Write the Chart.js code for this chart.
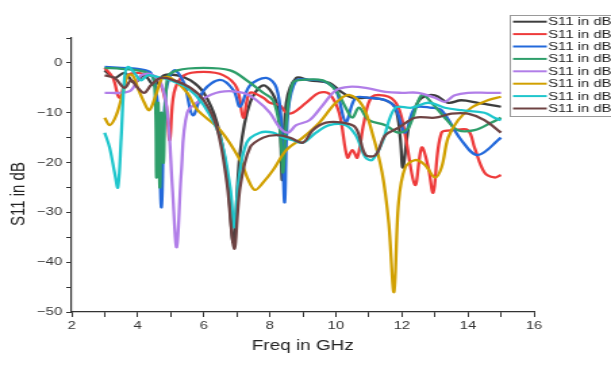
<!DOCTYPE html>
<html>
<head>
<meta charset="utf-8">
<script src="https://cdn.jsdelivr.net/npm/chart.js@4.4.1/dist/chart.umd.min.js"></script>
<style>
  html, body { margin: 0; padding: 0; background: #fff; overflow: hidden; }
  /* the source figure is stretched sideways, so the chart is drawn narrow and widened */
  #wrap { width: 452px; height: 370px; transform: scaleX(1.3518); transform-origin: 0 0; }
</style>
</head>
<body>
<div id="wrap"><canvas id="s11Chart" width="452" height="370"></canvas></div>
<script>
const xTickLabels = [2, 4, 6, 8, 10, 12, 14, 16];
const yTickLabels = [0, -10, -20, -30, -40, -50];

const freqBlack = [3, 3.3, 3.6, 3.9, 4.2, 4.5, 4.8, 5.2, 5.6, 6.0, 6.4, 6.7, 6.9, 7.1, 7.4, 7.8, 8.15, 8.3, 8.38, 8.5, 8.8, 9.2, 9.8, 10.1, 10.5, 11.0, 11.5, 11.8, 11.95, 12.03, 12.2, 12.4, 12.6, 13.0, 13.4, 13.8, 14.3, 15];
const s11Black  = [-1.5, -3, -2, -4, -2.5, -4.5, -2.5, -2.5, -3.5, -6, -12, -22, -36, -18, -8, -4.5, -7, -12, -23.5, -8, -3, -3.5, -4, -5.5, -7, -7, -7.5, -9, -15, -21, -13, -9, -7, -6.5, -8, -7.5, -8, -8.8];

const freqRed = [3, 3.25, 3.45, 3.7, 4.0, 4.3, 4.6, 4.85, 4.97, 5.1, 5.4, 6.0, 6.6, 7.0, 7.2, 7.4, 7.8, 8.0, 8.3, 8.5, 8.7, 9.1, 9.5, 9.8, 10.1, 10.35, 10.5, 10.65, 10.85, 11.1, 11.6, 11.9, 12.1, 12.4, 12.6, 12.8, 12.95, 13.2, 13.6, 14.0, 14.2, 14.5, 14.8, 15];
const s11Red  = [-1, -3, -7, -2.5, -2, -2.5, -3, -8, -15.5, -6, -2.5, -1.8, -2.5, -5, -11, -6, -7, -8, -8.5, -10, -10, -8, -6, -6.2, -10, -19, -17.5, -19, -12, -6.8, -6.8, -9, -14.5, -24.5, -17, -21, -26, -14, -13.5, -13.5, -17, -22, -23, -22.5];

const freqBlue = [3, 3.5, 4.0, 4.4, 4.6, 4.72, 4.85, 5.1, 5.4, 5.67, 6.0, 6.5, 6.9, 7.1, 7.4, 7.9, 8.2, 8.35, 8.45, 8.55, 8.8, 9.2, 9.6, 10.0, 10.3, 10.6, 11.0, 11.5, 11.8, 12.1, 12.4, 12.9, 13.2, 13.8, 14.3, 15];
const s11Blue  = [-0.8, -1, -1.2, -2, -8, -29, -6, -1.5, -4, -10.5, -5.5, -3.4, -5.5, -8.8, -4.5, -3, -5, -12, -28, -10, -3.5, -3.4, -3.6, -5.5, -11.8, -7, -7, -7.5, -9, -14, -9, -9, -9.5, -15.5, -18.5, -15];

const freqGreen = [3, 3.5, 4.0, 4.3, 4.5, 4.57, 4.62, 4.67, 4.72, 4.78, 4.9, 5.2, 6.0, 6.8, 7.3, 7.8, 8.1, 8.3, 8.4, 8.5, 8.7, 9.0, 9.6, 10.0, 10.3, 10.5, 10.7, 11.0, 11.5, 11.9, 12.2, 12.6, 12.9, 13.3, 13.7, 14.2, 14.7, 15];
const s11Green  = [-1, -1.2, -1.5, -2, -3.5, -23, -8, -25, -10, -20, -3, -1.5, -1, -1.5, -3.5, -6, -7.5, -13, -22, -12, -4, -3.4, -3.5, -5.5, -9, -11, -9, -11.5, -12.5, -14, -13, -6.4, -8, -11, -13.5, -13.5, -12, -11];

const freqPurple = [3, 3.5, 3.8, 4.1, 4.4, 4.7, 4.9, 5.05, 5.18, 5.32, 5.5, 5.9, 6.5, 7.2, 7.6, 8.0, 8.3, 8.55, 8.8, 9.2, 9.6, 10.0, 10.4, 10.9, 11.5, 12.0, 12.5, 13.0, 13.3, 13.6, 14.0, 14.6, 15];
const s11Purple  = [-6, -6, -5.5, -2.5, -2.3, -4, -10, -25, -37, -22, -10, -7.5, -5.8, -6, -7.5, -10, -13, -14, -12.5, -11.5, -8.5, -5.5, -4.8, -5, -5.8, -6, -6, -7, -7.8, -6.5, -6, -6, -6];

const freqGold = [3, 3.15, 3.35, 3.55, 3.7, 3.85, 4.0, 4.2, 4.35, 4.55, 4.75, 5.0, 5.5, 5.8, 6.5, 7.1, 7.35, 7.55, 7.8, 8.1, 8.5, 9.0, 9.5, 10.0, 10.4, 10.8, 11.1, 11.4, 11.6, 11.76, 11.9, 12.1, 12.4, 12.7, 13.0, 13.2, 13.4, 13.7, 14.1, 14.6, 15];
const s11Gold  = [-11, -12.5, -10.5, -6, -2.5, -2.5, -5, -8, -9.5, -6.5, -3, -3, -6, -9.4, -13.5, -19.5, -23.5, -25.5, -24, -21.5, -17.5, -15, -12, -8, -6.4, -8.5, -14, -22, -32, -46, -28, -21, -19.5, -20.5, -23, -21, -15, -11.5, -9, -7.5, -6.8];

const freqCyan = [3, 3.15, 3.3, 3.4, 3.5, 3.6, 3.7, 3.9, 4.1, 4.3, 4.6, 5.0, 5.5, 6.0, 6.5, 6.8, 6.92, 7.05, 7.3, 7.7, 8.1, 8.4, 8.7, 9.0, 9.4, 9.8, 10.3, 10.6, 10.9, 11.1, 11.4, 11.8, 12.3, 12.8, 13.3, 13.8, 14.5, 14.8, 15];
const s11Cyan  = [-14, -17, -22, -25, -15, -3, -0.8, -2, -3.5, -2.5, -2.8, -3.5, -5, -8.5, -15, -25, -33, -24, -16, -14, -14, -15, -15.5, -16, -14, -12.5, -12.5, -14.5, -19, -19.5, -16, -9, -9, -8, -9, -9.5, -10, -11, -11.5];

const freqBrown = [3, 3.3, 3.6, 3.8, 4.0, 4.2, 4.4, 4.7, 5.1, 5.6, 6.0, 6.4, 6.7, 6.92, 7.1, 7.4, 7.8, 8.2, 8.6, 9.0, 9.3, 9.7, 10.2, 10.6, 10.9, 11.2, 11.5, 11.9, 12.4, 13.0, 13.5, 14.0, 14.5, 15];
const s11Brown  = [-2.5, -3, -5, -3.5, -5, -6, -4.5, -3, -3.5, -5, -7.5, -13, -24, -37.3, -25, -17, -15, -14.5, -15, -16, -13.5, -12, -12, -13, -18.5, -18.5, -14.5, -13, -11, -11, -10.2, -10.2, -11.5, -14];

const seriesColors = ['#3d3d3d', '#ee3b3b', '#2369db', '#2e9e6a', '#b17ee8', '#d1a000', '#1fc6cc', '#6e4343'];
const seriesFreqs = [freqBlack, freqRed, freqBlue, freqGreen, freqPurple, freqGold, freqCyan, freqBrown];
const seriesValues = [s11Black, s11Red, s11Blue, s11Green, s11Purple, s11Gold, s11Cyan, s11Brown];
const seriesLabel = 'S11 in dB';
const yTitle = 'S11 in dB';

const datasets = seriesValues.map((vals, i) => ({
    label: seriesLabel,
    data: vals.map((v, k) => ({ x: seriesFreqs[i][k], y: v })),
    borderColor: seriesColors[i],
    borderWidth: 2.3,
    pointRadius: 0,
    fill: false,
    tension: 0.35,
    order: seriesValues.length - i   // later series sit on top, like the original
}));

// legend box in the top right corner and the y title, drawn by hand
const extras = {
    id: 'extras',
    afterDraw(chart) {
        const ctx = chart.ctx;
        ctx.save();
        ctx.strokeStyle = '#9a9a9a';
        ctx.lineWidth = 1;
        ctx.strokeRect(377.5, 15.5, 80, 101);
        ctx.font = '11px "Liberation Sans", Arial, sans-serif';
        ctx.textBaseline = 'middle';
        ctx.fillStyle = '#222';
        chart.data.datasets.forEach((ds, i) => {
            const y = 21.7 + i * 12.4;
            ctx.strokeStyle = ds.borderColor;
            ctx.lineWidth = 2;
            ctx.beginPath();
            ctx.moveTo(379.5, y);
            ctx.lineTo(404.5, y);
            ctx.stroke();
            ctx.fillText(ds.label, 405.5, y + 0.5);
        });

        ctx.translate(13.5, 194);
        ctx.rotate(-Math.PI / 2);
        ctx.textAlign = 'center';
        ctx.font = '15px "Liberation Sans", Arial, sans-serif';
        ctx.fillText(yTitle, 0, 0);
        ctx.restore();
    }
};

new Chart(document.getElementById('s11Chart').getContext('2d'), {
    type: 'line',
    data: { datasets: datasets },
    plugins: [extras],
    options: {
        responsive: false,
        animation: false,
        layout: { padding: { top: 38, right: 57, left: 0, bottom: 0 } },
        plugins: { legend: { display: false }, tooltip: { enabled: false } },
        scales: {
            x: {
                type: 'linear',
                min: 2,
                max: 16,
                afterFit: (s) => { s.height = 58; },
                border: { color: '#333', width: 1.2 },
                grid: { drawOnChartArea: false, tickLength: 5, color: '#333' },
                ticks: {
                    stepSize: 1,
                    autoSkip: false,
                    maxRotation: 0,
                    padding: 2,
                    color: '#333',
                    font: { family: '"Liberation Sans", Arial, sans-serif', size: 11 },
                    callback: (v) => xTickLabels.includes(v) ? String(v) : ''
                },
                title: {
                    display: true,
                    text: 'Freq in GHz',
                    color: '#222',
                    padding: { top: 15, bottom: 15 },
                    font: { family: '"Liberation Sans", Arial, sans-serif', size: 14 }
                }
            },
            y: {
                min: -50,
                max: 5,
                afterFit: (s) => { s.width = 53; },
                border: { color: '#333', width: 1.2 },
                grid: { drawOnChartArea: false, tickLength: 4, color: '#333' },
                ticks: {
                    stepSize: 5,
                    autoSkip: false,
                    padding: 3,
                    color: '#333',
                    font: { family: '"Liberation Sans", Arial, sans-serif', size: 11 },
                    callback: (v) => yTickLabels.includes(v) ? String(v).replace('-', '\u2212') : ''
                }
            }
        }
    }
});
</script>
</body>
</html>
